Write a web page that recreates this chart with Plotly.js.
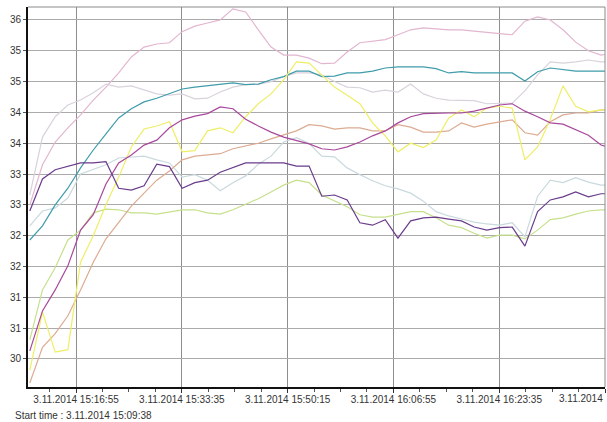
<!DOCTYPE html>
<html>
<head>
<meta charset="utf-8">
<script src="https://cdn.plot.ly/plotly-3.0.1.min.js"></script>
<style>
  html, body { margin: 0; padding: 0; background: #fff; }
  #chart { width: 607px; height: 422px; }
</style>
</head>
<body>
<div id="chart"></div>
<script>
// Sample times (2-minute logging interval)
const times = [
  "2014-11-03 15:09:38","2014-11-03 15:11:38","2014-11-03 15:13:38","2014-11-03 15:15:38",
  "2014-11-03 15:17:38","2014-11-03 15:19:38","2014-11-03 15:21:38","2014-11-03 15:23:38",
  "2014-11-03 15:25:38","2014-11-03 15:27:38","2014-11-03 15:29:38","2014-11-03 15:31:38",
  "2014-11-03 15:33:38","2014-11-03 15:35:38","2014-11-03 15:37:38","2014-11-03 15:39:38",
  "2014-11-03 15:41:38","2014-11-03 15:43:38","2014-11-03 15:45:38","2014-11-03 15:47:38",
  "2014-11-03 15:49:38","2014-11-03 15:51:38","2014-11-03 15:53:38","2014-11-03 15:55:38",
  "2014-11-03 15:57:38","2014-11-03 15:59:38","2014-11-03 16:01:38","2014-11-03 16:03:38",
  "2014-11-03 16:05:38","2014-11-03 16:07:38","2014-11-03 16:09:38","2014-11-03 16:11:38",
  "2014-11-03 16:13:38","2014-11-03 16:15:38","2014-11-03 16:17:38","2014-11-03 16:19:38",
  "2014-11-03 16:21:38","2014-11-03 16:23:38","2014-11-03 16:25:38","2014-11-03 16:27:38",
  "2014-11-03 16:29:38","2014-11-03 16:31:38","2014-11-03 16:33:38","2014-11-03 16:35:38",
  "2014-11-03 16:37:38","2014-11-03 16:39:38","2014-11-03 16:41:38"
];

// Sensor readings
const pinkSensor = [33.0,33.65,34.02,34.25,34.46,34.70,34.91,35.14,35.40,35.56,35.61,35.63,35.81,35.90,35.95,36.0,36.18,36.13,35.84,35.56,35.43,35.43,35.38,35.29,35.30,35.48,35.63,35.66,35.68,35.76,35.84,35.87,35.85,35.84,35.84,35.82,35.79,35.77,35.76,35.98,36.05,36.0,35.84,35.64,35.50,35.43,35.46];
const lavenderSensor = [33.16,34.10,34.43,34.62,34.70,34.82,34.96,34.91,34.93,34.86,34.80,34.78,34.80,34.72,34.73,34.83,34.91,34.95,34.96,35.0,35.08,35.14,35.14,35.11,35.0,34.91,34.90,34.83,34.86,34.83,34.96,34.80,34.73,34.70,34.70,34.69,34.64,34.65,34.65,34.85,35.11,35.32,35.30,35.32,35.35,35.32,35.32];
const tealSensor = [32.43,32.66,33.0,33.27,33.60,33.89,34.15,34.41,34.56,34.67,34.73,34.80,34.88,34.91,34.93,34.95,34.98,34.95,34.96,35.03,35.08,35.17,35.17,35.08,35.09,35.14,35.14,35.17,35.22,35.24,35.24,35.24,35.21,35.14,35.16,35.14,35.14,35.14,35.14,35.01,35.16,35.22,35.19,35.17,35.17,35.17,35.17];
const greySensor = [32.66,32.90,32.95,33.11,33.50,33.58,33.65,33.76,33.78,33.79,33.73,33.68,33.45,33.49,33.40,33.23,33.36,33.47,33.66,33.79,34.02,34.09,34.0,33.79,33.78,33.60,33.49,33.39,33.31,33.26,33.19,33.06,32.89,32.82,32.77,32.72,32.69,32.67,32.71,32.48,33.14,33.40,33.36,33.44,33.37,33.32,33.32];
const yellowSensor = [30.32,31.26,30.61,30.65,32.07,32.50,33.0,33.45,33.94,34.23,34.28,34.35,33.86,33.88,34.20,34.25,34.17,34.43,34.64,34.80,35.03,35.32,35.30,35.11,34.91,34.78,34.64,34.33,34.12,33.86,34.0,33.93,34.05,34.41,34.54,34.43,34.57,34.60,34.57,33.73,33.94,34.39,34.93,34.60,34.51,34.54,34.54];
const tanSensor = [30.11,30.69,30.91,31.20,31.62,32.07,32.45,32.72,32.98,33.19,33.40,33.55,33.73,33.79,33.81,33.83,33.91,33.96,34.0,34.07,34.13,34.20,34.30,34.28,34.23,34.25,34.25,34.20,34.20,34.30,34.26,34.18,34.18,34.20,34.33,34.26,34.31,34.35,34.38,34.17,34.13,34.35,34.46,34.49,34.49,34.54,34.54];
const greenSensor = [30.81,31.62,31.98,32.43,32.59,32.87,32.93,32.92,32.87,32.87,32.85,32.89,32.92,32.92,32.87,32.85,32.92,33.01,33.10,33.21,33.32,33.40,33.36,33.16,33.06,32.97,32.84,32.80,32.80,32.84,32.89,32.89,32.79,32.67,32.63,32.54,32.46,32.51,32.51,32.45,32.59,32.76,32.79,32.85,32.90,32.92,32.92];
const magentaSensor = [30.63,31.28,31.62,32.01,32.59,32.84,33.34,33.68,33.81,33.97,34.05,34.25,34.38,34.44,34.48,34.59,34.56,34.39,34.28,34.18,34.10,34.05,33.99,33.91,33.89,33.94,34.02,34.12,34.20,34.33,34.43,34.48,34.49,34.49,34.49,34.52,34.57,34.62,34.64,34.52,34.43,34.33,34.31,34.22,34.13,33.97,33.91];
const purpleSensor = [32.9,33.42,33.57,33.62,33.68,33.68,33.70,33.27,33.24,33.31,33.66,33.62,33.27,33.36,33.40,33.53,33.60,33.68,33.68,33.68,33.68,33.63,33.63,33.14,33.16,33.08,32.71,32.67,32.76,32.46,32.74,32.79,32.80,32.77,32.74,32.64,32.59,32.63,32.64,32.33,32.89,33.08,33.13,33.21,33.13,33.18,33.18];

// Axis ticks (the label at the right edge is drawn separately, right-aligned)
const xTickVals = ["2014-11-03 15:16:55","2014-11-03 15:33:35","2014-11-03 15:50:15","2014-11-03 16:06:55","2014-11-03 16:23:35","2014-11-03 16:40:15"];
const xTickText = ["3.11.2014 15:16:55","3.11.2014 15:33:35","3.11.2014 15:50:15","3.11.2014 16:06:55","3.11.2014 16:23:35",""];
const xEdgeLabel = "3.11.2014";
const yTickVals = [30.5,31,31.5,32,32.5,33,33.5,34,34.5,35,35.5,36];
const yTickText = ["30","31","31","32","32","33","33","34","34","35","35","36"];
const startLabel = "Start time : 3.11.2014 15:09:38";

const series = [
  {y: pinkSensor, color: "#e3b6cf"},
  {y: lavenderSensor, color: "#d9d2dc"},
  {y: greySensor, color: "#c9d9dd"},
  {y: tealSensor, color: "#3f9cab"},
  {y: greenSensor, color: "#c6e08c"},
  {y: tanSensor, color: "#dcab92"},
  {y: yellowSensor, color: "#eeee66"},
  {y: magentaSensor, color: "#a8489c"},
  {y: purpleSensor, color: "#6a3c8c"}
];

const traces = series.map(s => ({
  type: "scatter",
  mode: "lines",
  x: times,
  y: s.y,
  line: {color: s.color, width: 1.2},
  hoverinfo: "skip"
}));

const font = {family: "Liberation Sans, Arial, sans-serif", size: 10, color: "#333"};

const layout = {
  width: 607,
  height: 422,
  margin: {l: 28, r: 2, t: 7, b: 35, pad: 0},
  paper_bgcolor: "#ffffff",
  plot_bgcolor: "#ffffff",
  showlegend: false,
  font: font,
  xaxis: {
    type: "date",
    range: ["2014-11-03 15:09:21", "2014-11-03 16:40:15"],
    tickmode: "array",
    tickvals: xTickVals,
    ticktext: xTickText,
    ticks: "outside",
    ticklen: 4,
    tickcolor: "#333",
    ticklabelstandoff: -2,
    showgrid: true,
    gridcolor: "#8e8e8e",
    gridwidth: 1,
    showline: true,
    linecolor: "#111",
    linewidth: 2,
    zeroline: false,
    tickfont: font,
    minor: {
      tickmode: "linear",
      tick0: "2014-11-03 15:16:55",
      dtick: 250000,
      ticks: "outside",
      ticklen: 3,
      tickcolor: "#555",
      showgrid: false
    }
  },
  yaxis: {
    range: [30.045, 36.21],
    tickmode: "array",
    tickvals: yTickVals,
    ticktext: yTickText,
    ticks: "outside",
    ticklen: 3,
    tickcolor: "#555",
    showgrid: true,
    gridcolor: "#aaaaaa",
    gridwidth: 1,
    showline: true,
    linecolor: "#111",
    linewidth: 2,
    zeroline: false,
    tickfont: font
  },
  shapes: [
    {type: "line", xref: "paper", yref: "paper", x0: 0, x1: 1, y0: 1, y1: 1, line: {color: "#8a8a8a", width: 1}},
    {type: "line", xref: "paper", yref: "paper", x0: 1, x1: 1, y0: 0, y1: 1, line: {color: "#8a8a8a", width: 1}}
  ],
  annotations: [
    {
      text: xEdgeLabel,
      xref: "paper", yref: "paper",
      x: 1, y: -0.03,
      xanchor: "right", yanchor: "middle",
      showarrow: false,
      font: font
    },
    {
      text: startLabel,
      xref: "paper", yref: "paper",
      x: -0.0265, y: -0.0737,
      xanchor: "left", yanchor: "middle",
      showarrow: false,
      font: font
    }
  ]
};

Plotly.newPlot("chart", traces, layout, {displayModeBar: false, staticPlot: true});
</script>
</body>
</html>
